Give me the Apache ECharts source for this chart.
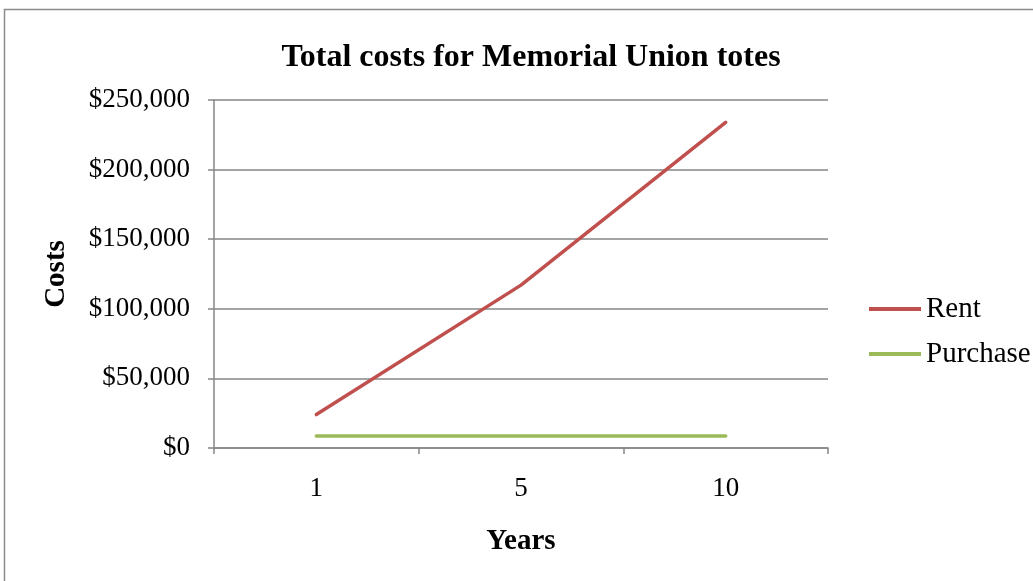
<!DOCTYPE html>
<html>
<head>
<meta charset="utf-8">
<script src="https://cdn.jsdelivr.net/npm/echarts@6/dist/echarts.min.js"></script>
<style>
  html, body { margin: 0; padding: 0; background: #ffffff; }
  #chart { width: 1033px; height: 581px; }
</style>
</head>
<body>
<div id="chart"></div>
<script>
// Total cost of totes over time: renting vs. purchasing
const years = ['1', '5', '10'];
const rentCosts = [24000, 117000, 234000];
const purchaseCosts = [8600, 8600, 8600];
const yTicks = [0, 50000, 100000, 150000, 200000, 250000];

const serif = '"Liberation Serif", "Times New Roman", serif';
const axisGrey = '#868686';

function money(v) {
  return '$' + v.toLocaleString('en-US');
}

const chart = echarts.init(document.getElementById('chart'), null, { renderer: 'canvas' });

chart.setOption({
  animation: false,
  backgroundColor: '#ffffff',
  textStyle: { fontFamily: serif, color: '#000' },
  graphic: [{
    type: 'rect',
    shape: { x: 4.5, y: 9.5, width: 1200, height: 800 },
    style: { fill: 'none', stroke: '#8c8c8c', lineWidth: 1.5 },
    silent: true
  }],
  title: {
    text: 'Total costs for Memorial Union totes',
    left: 526,
    textAlign: 'center',
    top: 37,
    textStyle: { fontFamily: serif, fontWeight: 'bold', fontSize: 32, color: '#000' }
  },
  legend: {
    orient: 'vertical',
    left: 864,
    top: 289,
    itemWidth: 52,
    itemHeight: 4,
    itemGap: 15,
    icon: 'rect',
    textStyle: { fontFamily: serif, fontSize: 29, color: '#000', lineHeight: 30 },
    data: ['Rent', 'Purchase']
  },
  grid: { left: 214, right: 205, top: 100, bottom: 133 },
  xAxis: {
    type: 'category',
    data: years,
    boundaryGap: true,
    name: 'Years',
    nameLocation: 'middle',
    nameGap: 79,
    nameTextStyle: { fontFamily: serif, fontWeight: 'bold', fontSize: 29, color: '#000' },
    axisLine: { show: true, lineStyle: { color: axisGrey, width: 1.5 } },
    axisTick: { show: true, alignWithLabel: false, length: 6, lineStyle: { color: axisGrey, width: 1.5 } },
    axisLabel: { margin: 27, fontFamily: serif, fontSize: 27, color: '#000' },
    splitLine: { show: false }
  },
  yAxis: {
    type: 'value',
    min: yTicks[0],
    max: yTicks[yTicks.length - 1],
    interval: yTicks[1] - yTicks[0],
    name: 'Costs',
    nameLocation: 'middle',
    nameGap: 143,
    nameRotate: 90,
    nameTextStyle: { fontFamily: serif, fontWeight: 'bold', fontSize: 29, color: '#000' },
    axisLine: { show: true, lineStyle: { color: axisGrey, width: 1.5 } },
    axisTick: { show: true, length: 6, lineStyle: { color: axisGrey, width: 1.5 } },
    axisLabel: { margin: 24, fontFamily: serif, fontSize: 27, color: '#000', formatter: money },
    splitLine: { show: true, lineStyle: { color: axisGrey, width: 1.5 } }
  },
  series: [
    {
      name: 'Rent',
      type: 'line',
      data: rentCosts,
      symbol: 'none',
      color: '#C0504D',
      lineStyle: { color: '#C0504D', width: 3.5, cap: 'round', join: 'round' }
    },
    {
      name: 'Purchase',
      type: 'line',
      data: purchaseCosts,
      symbol: 'none',
      color: '#9BBB59',
      lineStyle: { color: '#9BBB59', width: 3.5, cap: 'round', join: 'round' }
    }
  ]
});
</script>
</body>
</html>
